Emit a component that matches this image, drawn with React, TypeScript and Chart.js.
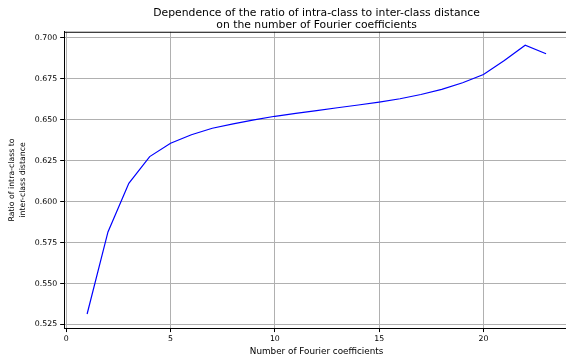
import React, { useEffect, useRef } from "react";
import { Chart, registerables } from "chart.js";

Chart.register(...registerables);

const coefficients: number[] = [1, 2, 3, 4, 5, 6, 7, 8, 9, 10, 11, 12, 13, 14, 15, 16, 17, 18, 19, 20, 21, 22, 23];
const ratio: number[] = [
  0.5314, 0.5815, 0.6112, 0.6275, 0.6356, 0.6408, 0.6448, 0.6475, 0.6499, 0.6521,
  0.6539, 0.6556, 0.6573, 0.659, 0.6608, 0.6628, 0.6654, 0.6685, 0.6726, 0.6776,
  0.6862, 0.6955, 0.6903,
];
const xTicks: number[] = [0, 5, 10, 15, 20];
const yTicks: number[] = [0.525, 0.55, 0.575, 0.6, 0.625, 0.65, 0.675, 0.7];

const titleLines: string[] = [
  "Dependence of the ratio of intra-class to inter-class distance",
  "on the number of Fourier coefficients",
];
const yLabelLines: string[] = ["Ratio of intra-class to", "inter-class distance"];
const xLabel = "Number of Fourier coefficients";

const FONT = "'DejaVu Sans', sans-serif";

const framePlugin = {
  id: "frame",
  afterDraw(chart: any) {
    const { ctx, chartArea } = chart;
    ctx.save();
    ctx.strokeStyle = "#000";
    ctx.lineWidth = 1;
    ctx.beginPath();
    ctx.moveTo(chartArea.left, chartArea.top + 0.5);
    ctx.lineTo(chartArea.right, chartArea.top + 0.5);
    ctx.moveTo(chartArea.right - 0.5, chartArea.top);
    ctx.lineTo(chartArea.right - 0.5, chartArea.bottom);
    ctx.stroke();
    ctx.restore();
  },
};

export default function App() {
  const ref = useRef<HTMLCanvasElement | null>(null);
  useEffect(() => {
    if (!ref.current) return;
    const chart = new Chart(ref.current, {
      type: "line",
      data: {
        datasets: [
          {
            data: coefficients.map((c, i) => ({ x: c, y: ratio[i] })),
            borderColor: "#0000ff",
            borderWidth: 1.2,
            pointRadius: 0,
            tension: 0,
            fill: false,
          },
        ],
      },
      options: {
        animation: false,
        responsive: false,
        maintainAspectRatio: false,
        layout: { padding: { left: 5, right: 3, top: 7, bottom: 1 } },
        plugins: {
          legend: { display: false },
          tooltip: { enabled: false },
          title: {
            display: true,
            fullSize: false,
            text: titleLines,
            color: "#000",
            font: { family: FONT, size: 10.8, weight: "normal", lineHeight: 1.1 },
            padding: { top: 0, bottom: 1 },
          },
        },
        scales: {
          x: {
            type: "linear",
            min: -0.1,
            max: 24.1,
            afterBuildTicks: (scale: any) => {
              scale.ticks = xTicks.map((v) => ({ value: v }));
            },
            ticks: {
              color: "#000",
              font: { family: FONT, size: 7.8 },
              padding: 2,
              maxRotation: 0,
              callback: (v: any) => String(v),
            },
            grid: { color: "#b0b0b0", lineWidth: 1, tickColor: "#000", tickLength: 4, drawTicks: true },
            border: { color: "#000", width: 1 },
            title: {
              display: true,
              text: xLabel,
              color: "#000",
              font: { family: FONT, size: 8.8 },
              padding: { top: 1, bottom: 0 },
            },
          },
          y: {
            type: "linear",
            min: 0.5228,
            max: 0.7037,
            afterBuildTicks: (scale: any) => {
              scale.ticks = yTicks.map((v) => ({ value: v }));
            },
            ticks: {
              color: "#000",
              font: { family: FONT, size: 7.8 },
              padding: 3,
              callback: (v: any) => Number(v).toFixed(3),
            },
            grid: { color: "#b0b0b0", lineWidth: 1, tickColor: "#000", tickLength: 4, drawTicks: true },
            border: { color: "#000", width: 1 },
            title: {
              display: true,
              text: yLabelLines,
              color: "#000",
              font: { family: FONT, size: 7.8, lineHeight: 1.4 },
              padding: { top: 2, bottom: 3 },
            },
          },
        },
      },
      plugins: [framePlugin],
    });
    return () => chart.destroy();
  }, []);
  return (
    <div style={{ position: "fixed", left: 0, top: 0, width: 566, height: 358, overflow: "hidden", background: "#fff" }}>
      <canvas ref={ref} width={572} height={358} style={{ display: "block", width: 572, height: 358 }} />
    </div>
  );
}
